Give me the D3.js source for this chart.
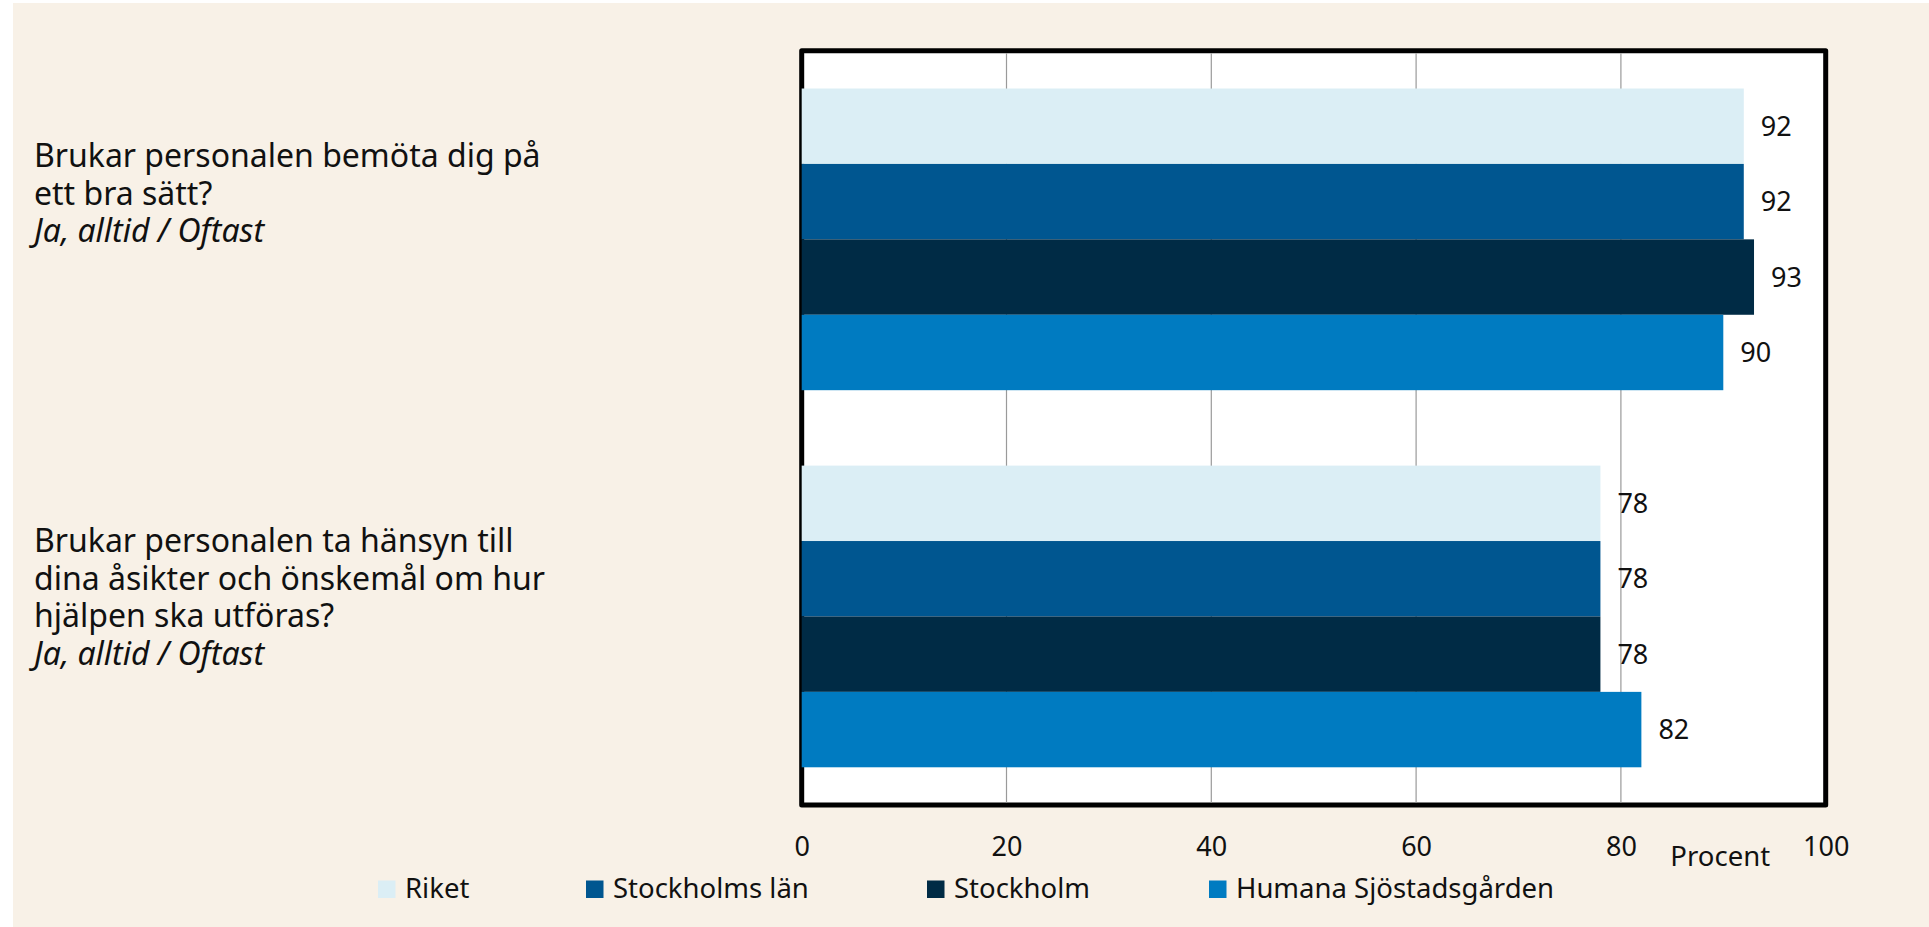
<!DOCTYPE html>
<html>
<head>
<meta charset="utf-8">
<script src="https://cdn.jsdelivr.net/npm/d3@7"></script>
<style>
  html, body { margin: 0; padding: 0; background: #ffffff; }
  svg { display: block; font-family: "Noto Sans", "Open Sans", sans-serif; }
</style>
</head>
<body>
<script>
// ---------- DATA ----------
const categories = [
  ["Brukar personalen bemöta dig på", "ett bra sätt?"],
  ["Brukar personalen ta hänsyn till", "dina åsikter och önskemål om hur", "hjälpen ska utföras?"]
];
const categorySubtitle = ["Ja, alltid / Oftast", "Ja, alltid / Oftast"];
const seriesNames = ["Riket", "Stockholms län", "Stockholm", "Humana Sjöstadsgården"];
const riket = [92, 78];
const stockholmsLan = [92, 78];
const stockholm = [93, 78];
const humana = [90, 82];
const xTicks = [0, 20, 40, 60, 80, 100];
const axisTitle = "Procent";

// ---------- LAYOUT ----------
const W = 1929, H = 927;
const colors = ["#dbeef5", "#005690", "#002b45", "#007bc1"];
const plot = { left: 801.7, right: 1825.7, top: 50.8, bottom: 805 };
const labelFirstBaseline = [78.7, 86.7]; // offset from bar group top
const legendX = [378, 586, 927, 1209];

const seriesValues = [riket, stockholmsLan, stockholm, humana];

const svg = d3.select("body").append("svg")
  .attr("width", W).attr("height", H);

svg.append("rect").attr("x", 13).attr("y", 3).attr("width", W - 13).attr("height", H - 3)
  .attr("fill", "#f8f1e7");

const x = d3.scaleLinear().domain([0, 100]).range([plot.left, plot.right]);
const y0 = d3.scaleBand().domain(d3.range(categories.length))
  .range([plot.top, plot.bottom]).paddingInner(0.2).paddingOuter(0.1);
const y1 = d3.scaleBand().domain(d3.range(seriesNames.length))
  .range([0, y0.bandwidth()]).padding(0);

// plot background
svg.append("rect")
  .attr("x", plot.left).attr("y", plot.top)
  .attr("width", plot.right - plot.left).attr("height", plot.bottom - plot.top)
  .attr("fill", "#ffffff")
  .attr("stroke", "#000").attr("stroke-width", 5).attr("stroke-linejoin", "round");

// gridlines
svg.append("g").selectAll("line")
  .data(xTicks.filter(t => t > 0 && t < 100))
  .join("line")
  .attr("x1", d => x(d)).attr("x2", d => x(d))
  .attr("y1", plot.top + 2.5).attr("y2", plot.bottom - 2.5)
  .attr("stroke", "#9a9a9a").attr("stroke-width", 1.2);

// bars
const groups = svg.append("g").selectAll("g")
  .data(categories.map((c, i) => i))
  .join("g")
  .attr("transform", i => `translate(0,${y0(i)})`);

groups.selectAll("rect")
  .data(i => seriesValues.map((vals, s) => ({ s, v: vals[i] })))
  .join("rect")
  .attr("x", x(0))
  .attr("y", d => y1(d.s))
  .attr("width", d => x(d.v) - x(0))
  .attr("height", y1.bandwidth())
  .attr("fill", d => colors[d.s]);

groups.selectAll("text.val")
  .data(i => seriesValues.map((vals, s) => ({ s, v: vals[i] })))
  .join("text")
  .attr("class", "val")
  .attr("x", d => x(d.v) + 17)
  .attr("y", d => y1(d.s) + y1.bandwidth() / 2)
  .attr("dy", "0.36em")
  .attr("font-size", 27)
  .attr("fill", "#111")
  .text(d => d.v);

// category labels
categories.forEach((lines, i) => {
  const t = svg.append("text")
    .attr("x", 34)
    .attr("y", y0(i) + labelFirstBaseline[i])
    .attr("font-size", 32)
    .attr("fill", "#111");
  lines.forEach((ln, k) => {
    t.append("tspan").attr("x", 34).attr("dy", k === 0 ? 0 : 37.5).text(ln);
  });
  t.append("tspan").attr("x", 34).attr("dy", 37.5)
    .attr("font-style", "italic").text(categorySubtitle[i]);
});

// x axis tick labels
const axis = d3.axisBottom(x).tickValues(xTicks).tickSize(0).tickPadding(0).tickFormat(d3.format("d"));
const ag = svg.append("g").attr("transform", `translate(0,${plot.bottom})`).call(axis);
ag.select(".domain").remove();
ag.selectAll("text")
  .attr("font-size", 27)
  .attr("font-family", "\"Noto Sans\", sans-serif")
  .attr("fill", "#111")
  .attr("y", 51).attr("dy", 0);

svg.append("text")
  .attr("x", x(89.7)).attr("y", 865.7)
  .attr("text-anchor", "middle")
  .attr("font-size", 27.5).attr("fill", "#111")
  .text(axisTitle);

// legend
const lg = svg.append("g").selectAll("g")
  .data(seriesNames)
  .join("g")
  .attr("transform", (d, i) => `translate(${legendX[i]},880.5)`);
lg.append("rect").attr("width", 17.5).attr("height", 17.5).attr("fill", (d, i) => colors[i]);
lg.append("text").attr("x", 27).attr("y", 17.2)
  .attr("font-size", 27.5).attr("fill", "#111").text(d => d);
</script>
</body>
</html>
